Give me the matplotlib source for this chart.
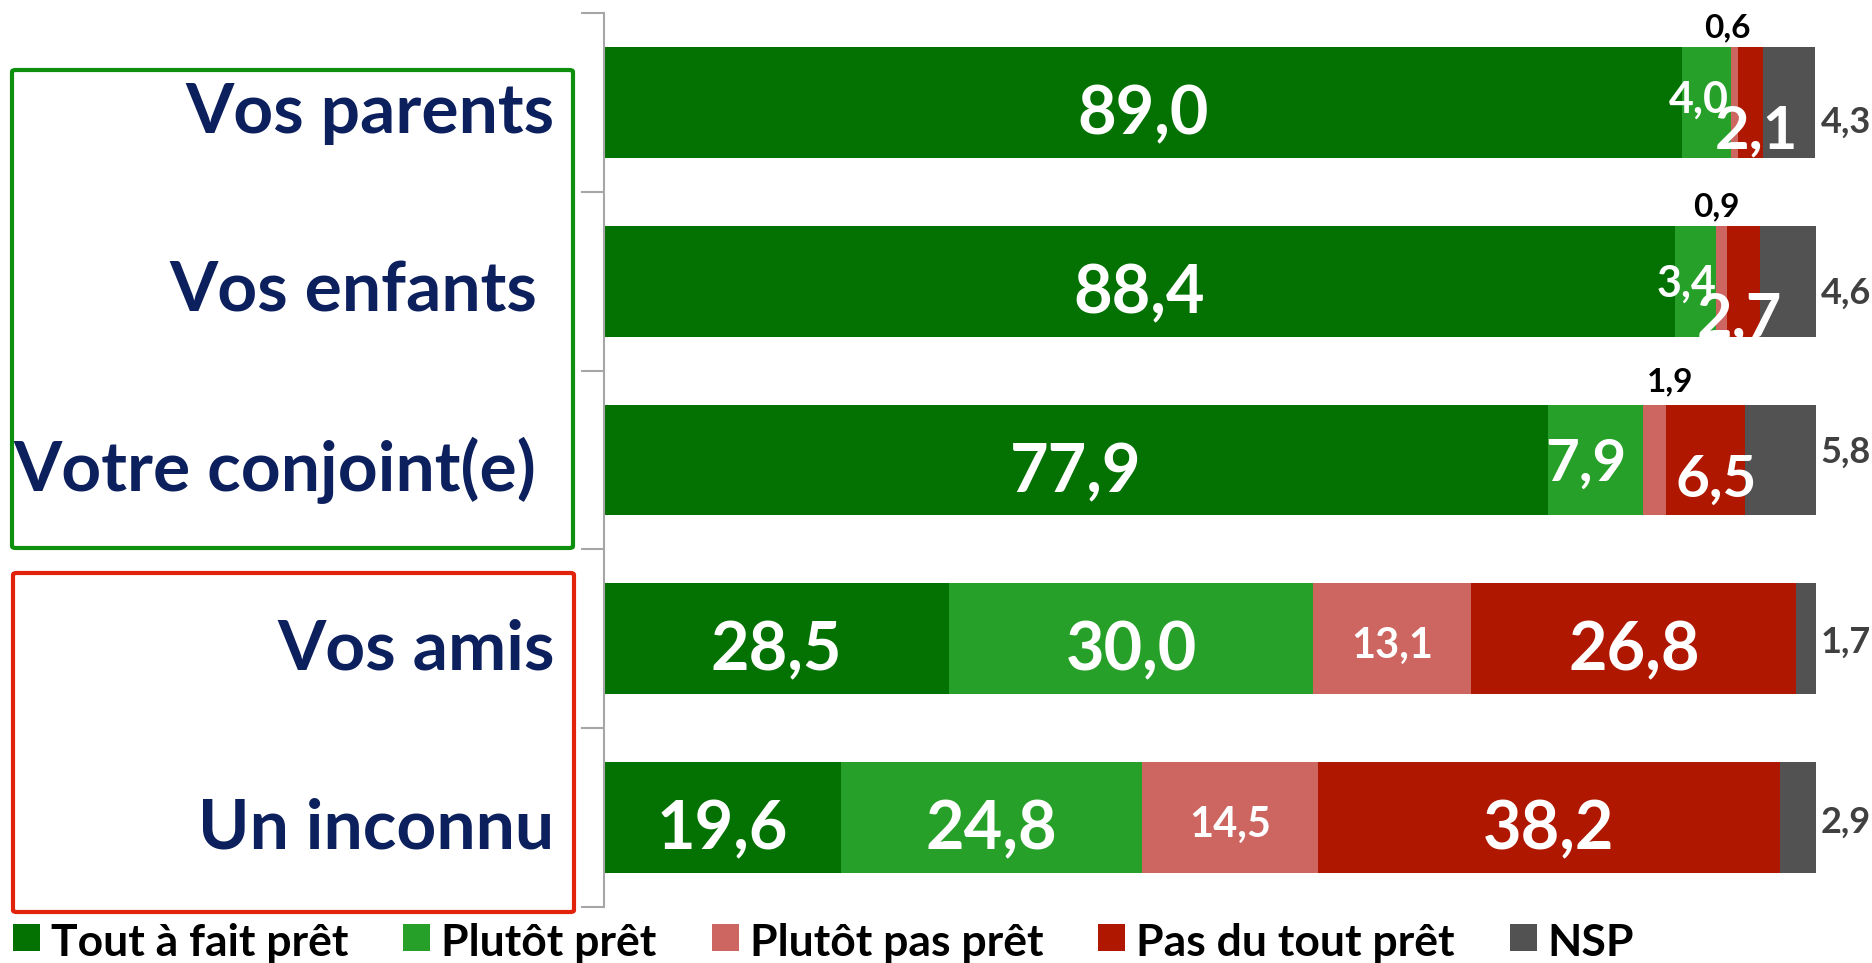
import matplotlib
matplotlib.use("Agg")
import matplotlib.pyplot as plt
from matplotlib.patches import Rectangle, FancyBboxPatch
from matplotlib.transforms import blended_transform_factory

plt.rcParams['font.family'] = ['Lato', 'DejaVu Sans']
plt.rcParams['font.weight'] = 'bold'

# data
categories = ['Vos parents', 'Vos enfants', 'Votre conjoint(e)', 'Vos amis', 'Un inconnu']
series = ['Tout à fait prêt', 'Plutôt prêt', 'Plutôt pas prêt', 'Pas du tout prêt', 'NSP']
tout_a_fait = [89.0, 88.4, 77.9, 28.5, 19.6]
plutot = [4.0, 3.4, 7.9, 30.0, 24.8]
plutot_pas = [0.6, 0.9, 1.9, 13.1, 14.5]
pas_du_tout = [2.1, 2.7, 6.5, 26.8, 38.2]
nsp = [4.3, 4.6, 5.8, 1.7, 2.9]
values = [tout_a_fait, plutot, plutot_pas, pas_du_tout, nsp]

colors = ['#037203', '#27A02A', '#CD6661', '#B01700', '#525252']
navy = '#0D205E'

W, H = 1872, 963
fig = plt.figure(figsize=(W / 100, H / 100), dpi=100)


def fx(px):
    return px / W


def fy(py):
    return 1 - py / H


# axes placed so that 0..100 spans the bar area
ax_left, ax_right, ax_top, ax_bot = 604, 1815.5, 13, 907
ax = fig.add_axes([fx(ax_left), fy(ax_bot), (ax_right - ax_left) / W, (ax_bot - ax_top) / H])
ax.set_xlim(0, 100)
ax.set_ylim(len(categories) - 0.5, -0.5)

rows = list(range(len(categories)))
left = [0.0] * len(categories)
for j, vals in enumerate(values):
    ax.barh(rows, vals, left=left, height=0.62, color=colors[j], edgecolor='none', zorder=2)
    left = [l + v for l, v in zip(left, vals)]

for s in ['top', 'right', 'bottom']:
    ax.spines[s].set_visible(False)
ax.spines['left'].set_color('#A6A6A6')
ax.spines['left'].set_linewidth(1.5)
ax.set_xticks([])
ax.set_yticks([r - 0.5 for r in rows] + [len(categories) - 0.5])
ax.set_yticklabels([])
ax.tick_params(axis='y', length=16.5, width=1.5, color='#A6A6A6', direction='out')


def fmt(v):
    return f"{v:.1f}".replace('.', ',')


# label styles
sizes = [
    [48, 31, 24, 43, 26],
    [48, 31, 24, 44, 26],
    [48, 42, 24, 42, 26],
    [48, 48, 30, 48, 26],
    [48, 48, 30, 48, 26],
]
offsets = {
    (0, 1): (-8, -10.5), (0, 2): (-7, 65), (0, 3): (6, -46.5),
    (1, 1): (-9, -15), (1, 2): (-5, 64.5), (1, 3): (-4, -55),
    (2, 1): (-10, -20.5), (2, 2): (15, 69), (2, 3): (10, -37),
}
nsp_dy = [-30.5, -22.5, -2.5, -13.5, -15.5]

for i in rows:
    start = 0.0
    for j, vals in enumerate(values):
        v = vals[i]
        size = sizes[i][j]
        if j == 4:
            ax.annotate(fmt(v), xy=(100, i), xytext=(5, nsp_dy[i]), textcoords='offset pixels',
                        ha='left', va='baseline', fontsize=size, fontweight='bold',
                        color='#404040', zorder=5, annotation_clip=False)
        else:
            default_dy = -32 if size >= 40 else -19.5
            dx, dy = offsets.get((i, j), (0, default_dy))
            col = 'black' if (j == 2 and i < 3) else 'white'
            ax.annotate(fmt(v), xy=(start + v / 2, i), xytext=(dx, dy), textcoords='offset pixels',
                        ha='center', va='baseline', fontsize=size, fontweight='bold',
                        color=col, zorder=5, annotation_clip=False)
        start += v

# category labels, right aligned left of the axis
label_right = [555, 537, 536, 555, 554]
trans = blended_transform_factory(fig.transFigure, ax.transData)
for i, name in enumerate(categories):
    ax.annotate(name, xy=(fx(label_right[i]), i), xycoords=trans, xytext=(0, -30.5),
                textcoords='offset pixels', ha='right', va='baseline', fontsize=50,
                fontweight='bold', color=navy, annotation_clip=False)

# group boxes
boxes = [(12, 70, 573, 548, '#0E8F0E'), (13, 573, 574, 912, '#E0230A')]
for x0, y0, x1, y1, c in boxes:
    fig.patches.append(FancyBboxPatch((fx(x0), fy(y1)), fx(x1 - x0), (y1 - y0) / H,
                                      boxstyle='round,pad=0,rounding_size=0.002',
                                      transform=fig.transFigure, fill=False,
                                      edgecolor=c, linewidth=3))

# legend drawn by hand
fig.canvas.draw()
renderer = fig.canvas.get_renderer()
x = 13
for name, c in zip(series, colors):
    fig.patches.append(Rectangle((fx(x), fy(951)), fx(27), 27 / H, transform=fig.transFigure,
                                 facecolor=c, edgecolor='none'))
    t = fig.text(fx(x + 38), fy(956), name, ha='left', va='baseline', fontsize=32,
                 fontweight='bold', color='black')
    bb = t.get_window_extent(renderer=renderer)
    x = bb.x1 + 55

fig.savefig('out.png', dpi=100)
